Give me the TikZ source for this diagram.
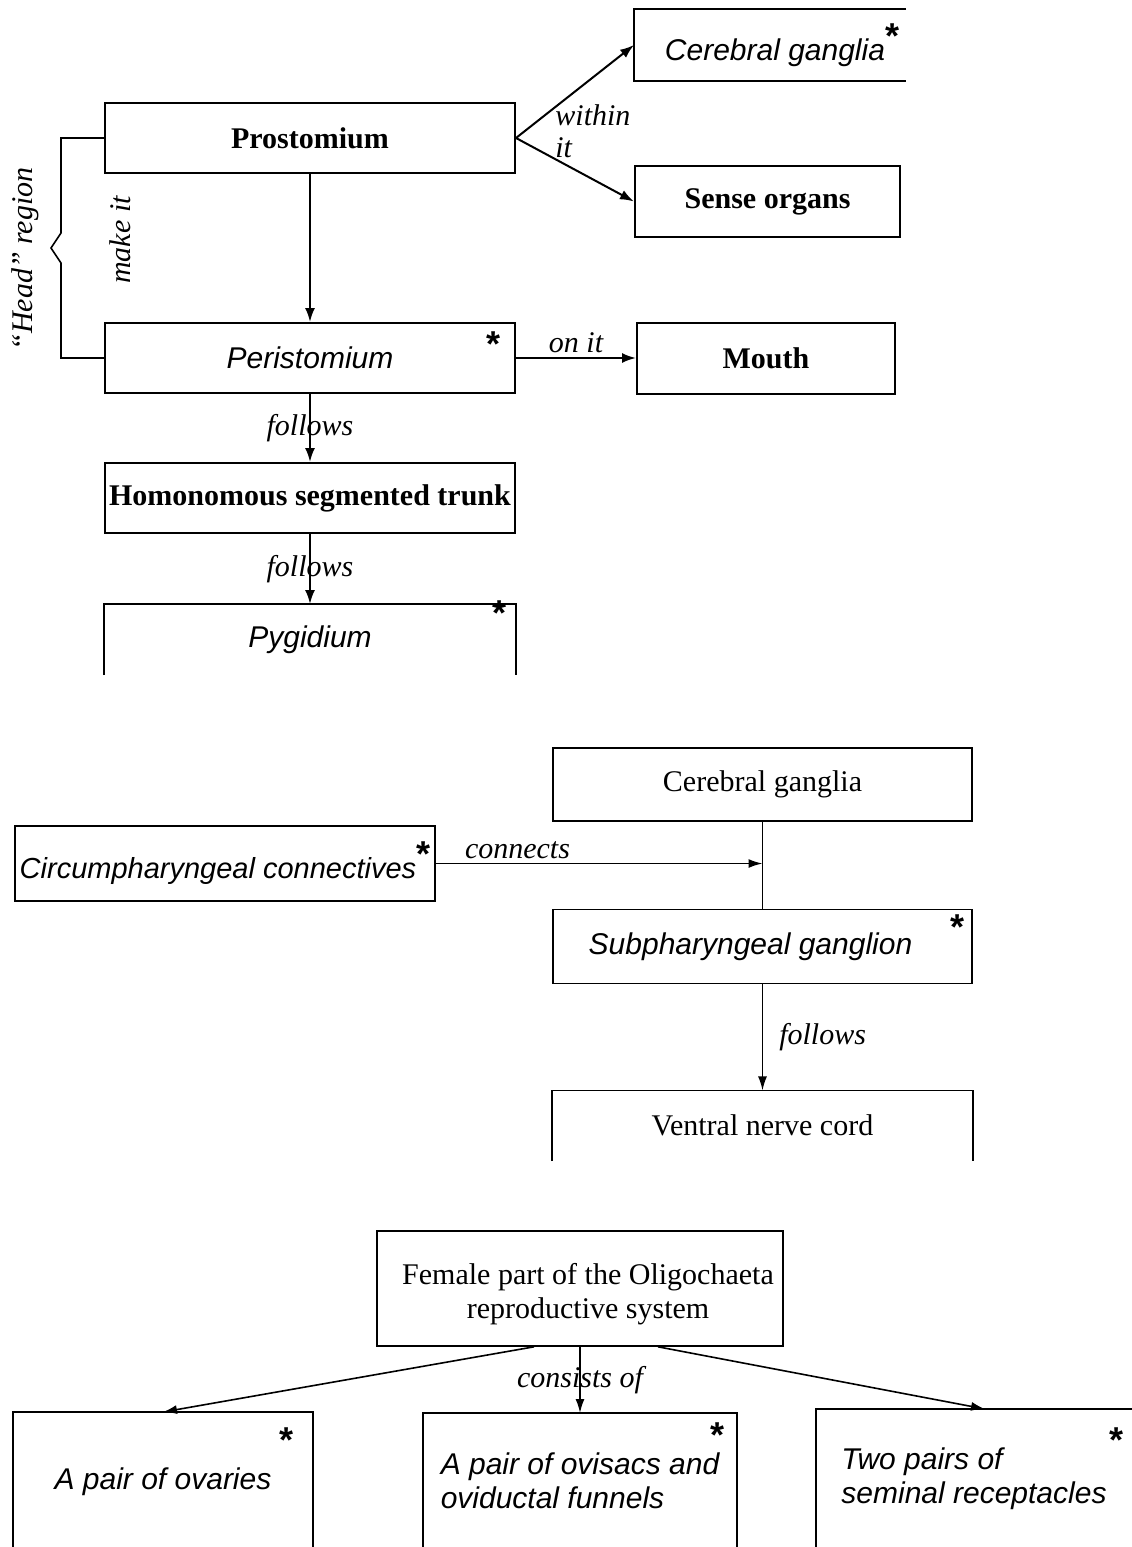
\documentclass[tikz,border=0pt]{standalone}
\usepackage{fontspec}
\setmainfont{Liberation Serif}
\setsansfont{Liberation Sans}
\usetikzlibrary{arrows.meta,positioning}
\newcommand{\sstar}{\raisebox{6pt}{\upshape\bfseries\fontsize{18}{18}\selectfont *}}

\begin{document}
\begin{tikzpicture}[
  x=0.5pt, y=-0.5pt,
  font=\fontsize{15}{17}\selectfont,
  box/.style={draw, line width=1pt, inner sep=0pt, align=center},
  bbox/.style={box, font=\fontsize{15}{17}\selectfont\bfseries},
  ibox/.style={box, font=\fontsize{15}{17}\selectfont\sffamily\itshape},
  rbox/.style={box, line width=0.8pt},
  lbl/.style={font=\fontsize{15}{16}\selectfont\itshape, inner sep=2pt},
  ast/.style={font=\fontsize{18}{18}\selectfont\sffamily\bfseries, inner sep=0pt},
  ar/.style={-{Latex[length=7pt, width=5pt]}, line width=1pt},
  thinar/.style={-{Latex[length=7pt, width=4.5pt]}, line width=0.8pt}
]
\useasboundingbox (0,0) rectangle (1131,1547);

% body regions
\node[bbox, minimum width=205pt, minimum height=35pt] (pro) at (310,138) {Prostomium};
\node[ibox, minimum width=205pt, minimum height=35pt, below=74pt of pro] (peri) {Peristomium};
\node[bbox, minimum width=205pt, minimum height=35pt, below=34pt of peri] (trunk) {Homonomous segmented trunk};
\node[ibox, draw=none, minimum width=205pt, minimum height=34.5pt, below=35pt of trunk] (pyg) {Pygidium};
\draw[line width=1pt] (pyg.south west) -- (pyg.north west) -- (pyg.north east) -- (pyg.south east);
\node[ibox, draw=none, minimum width=135pt, minimum height=35pt] (cg1) at (770,45) {\hspace*{12pt}Cerebral ganglia\sstar};
\draw[line width=1pt] (cg1.north east) -- (cg1.north west) -- (cg1.south west) -- (cg1.south east);
\node[bbox, minimum width=132.5pt, minimum height=35.5pt] (sense) at (767.5,201.5) {Sense organs};
\node[bbox, minimum width=129pt, minimum height=35.5pt, right=60pt of peri] (mouth) {Mouth};
\node[ast] (peri-ast) at ([shift={(-11.5pt,-11pt)}]peri.north east) {*};
\node[ast] (pyg-ast) at ([shift={(-8.5pt,-4.5pt)}]pyg.north east) {*};

\draw[ar] (pro) -- (peri);
\draw[ar] (pro.east) -- (cg1.west);
\draw[ar] (pro.east) -- (sense.west);
\node[lbl, align=left, anchor=west] (within) at (551,131) {within\\it};
\draw[ar] (peri) -- node[lbl, above] (onit) {on it} (mouth);
\draw[ar] (peri) -- node[lbl] (fol1) {follows} (trunk);
\draw[ar] (trunk) -- node[lbl] (fol2) {follows} (pyg);
\node[lbl, rotate=90] (makeit) at (120,240) {make it};
\draw[line width=0.8pt] (pro.west) -- ++(-43,0) -- ++(0,95) -- ++(-10,15) -- ++(10,15) |- (peri.west);
\node[lbl, rotate=90] (head) at (25,259) {“Head” region};

% nervous system
\node[rbox, minimum width=209.5pt, minimum height=36.5pt] (cg2) at (762.5,784.5) {Cerebral ganglia};
\node[ibox, line width=0.8pt, minimum width=210pt, minimum height=37.5pt, font=\fontsize{14.5}{17}\selectfont\sffamily\itshape] (circ) at (225,863.5) {Circumpharyngeal connectives\sstar};
\node[ibox, line width=0.8pt, minimum width=209.5pt, minimum height=37pt, below=43.5pt of cg2] (subph) {Subpharyngeal ganglion\hspace*{12pt}};
\node[rbox, draw=none, minimum width=209.5pt, minimum height=34.5pt, below=53pt of subph] (vnc) {Ventral nerve cord};
\draw[line width=0.8pt] (vnc.south west) -- (vnc.north west) -- (vnc.north east) -- (vnc.south east);
\node[ast] (subph-ast) at ([shift={(-7.5pt,-9pt)}]subph.north east) {*};
\coordinate (jn) at (circ.east -| cg2.south);
\draw[line width=0.8pt] (cg2) -- (subph);
\draw[thinar] (circ.east) -- node[lbl, above, pos=0.25] (conn) {connects} (jn);
\draw[thinar] (subph) -- node[lbl, right=6pt] (fol3) {follows} (vnc);

% female reproductive system
\node[rbox, minimum width=203pt, minimum height=57.5pt] (fem) at (580,1288.5) {\hspace*{8pt}\rule{0pt}{16.5pt}Female part of the Oligochaeta\\\hspace*{8pt}reproductive system};
\node[ibox, draw=none, minimum width=149pt, minimum height=68.5pt, anchor=north] (ovar) at (163,1412) {A pair of ovaries};
\node[ibox, draw=none, align=left, minimum width=156pt, minimum height=67pt, anchor=north] (ovi) at (580,1413) {A pair of ovisacs and\\oviductal funnels};
\node[ibox, draw=none, align=left, minimum width=157pt, minimum height=69pt, anchor=north] (rec) at (974,1409) {Two pairs of\\seminal receptacles};
\draw[line width=0.8pt] (ovar.south west) -- (ovar.north west) -- (ovar.north east) -- (ovar.south east);
\draw[line width=0.8pt] (ovi.south west) -- (ovi.north west) -- (ovi.north east) -- (ovi.south east);
\draw[line width=0.8pt] (rec.south west) -- (rec.north west) -- (rec.north east);
\node[ast] (ovar-ast) at ([shift={(-13pt,-14pt)}]ovar.north east) {*};
\node[ast] (ovi-ast) at ([shift={(-10pt,-11pt)}]ovi.north east) {*};
\node[ast] (rec-ast) at ([shift={(-8pt,-15.5pt)}]rec.north east) {*};
\draw[thinar] ([xshift=-23pt]fem.south) -- (ovar.north);
\draw[thinar] (fem) -- node[lbl] (cons) {consists of} (ovi);
\draw[thinar] ([xshift=39pt]fem.south) -- ([xshift=5.5pt]rec.north);
\end{tikzpicture}
\end{document}
